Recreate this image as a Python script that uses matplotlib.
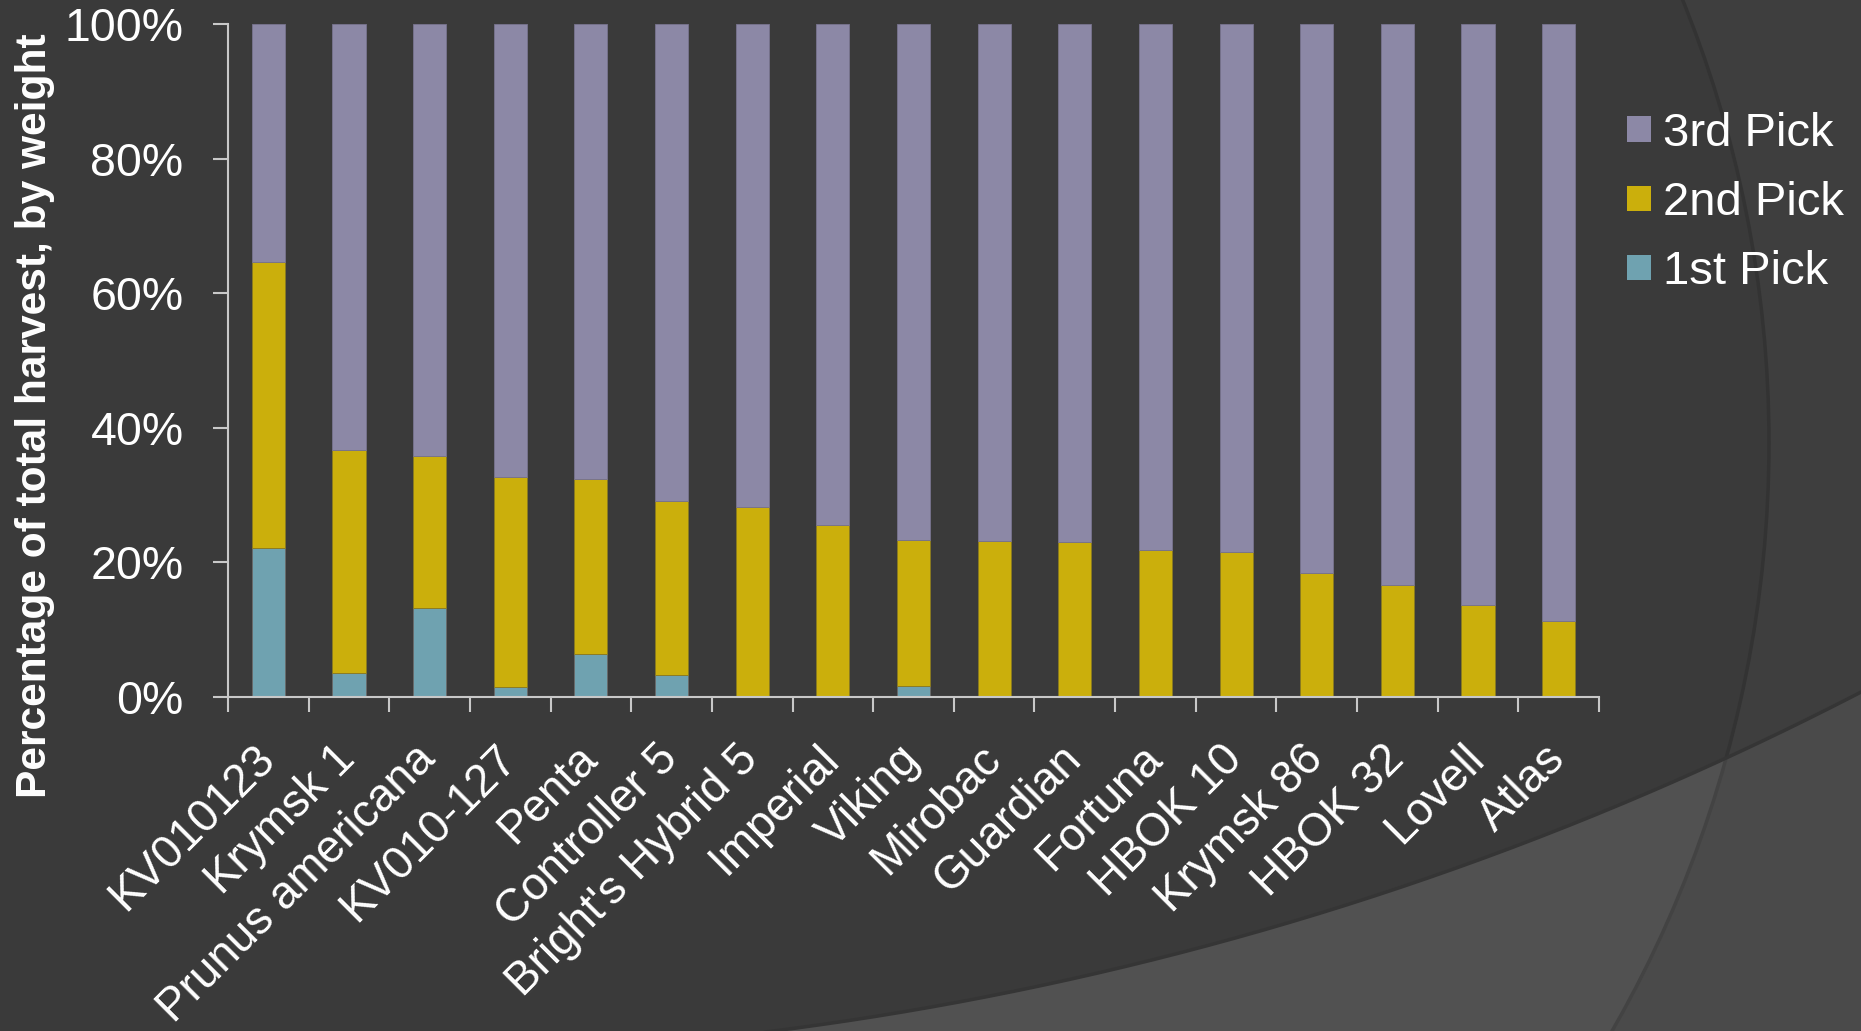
import numpy as np
import matplotlib
matplotlib.use("Agg")
import matplotlib.pyplot as plt
from matplotlib.patches import Circle, Polygon
from matplotlib.transforms import ScaledTranslation

plt.rcParams['font.family'] = ['Liberation Sans', 'DejaVu Sans']

# data (share of total harvest, %)
rootstocks = ['KV010123', 'Krymsk 1', 'Prunus americana', 'KV010-127', 'Penta',
              'Controller 5', "Bright's Hybrid 5", 'Imperial', 'Viking', 'Mirobac',
              'Guardian', 'Fortuna', 'HBOK 10', 'Krymsk 86', 'HBOK 32', 'Lovell', 'Atlas']
pick1 = [22.2, 3.6, 13.2, 1.5, 6.4, 3.2, 0, 0, 1.6, 0, 0, 0, 0, 0, 0, 0, 0]
pick2 = [42.4, 33.1, 22.6, 31.2, 26.0, 25.9, 28.3, 25.6, 21.8, 23.2, 23.1, 21.9, 21.5,
         18.4, 16.6, 13.65, 11.3]
pick3 = [100 - a - b for a, b in zip(pick1, pick2)]

c1 = '#6fa2b0'
c2 = '#cbaf0c'
c3 = '#8c88a6'

W, H = 1861, 1031
fig = plt.figure(figsize=(W / 100, H / 100), dpi=100)
fig.patch.set_facecolor('#3e3e3e')

# slide background decoration
bg = fig.add_axes([0, 0, 1, 1], zorder=-5)
bg.set_xlim(0, W)
bg.set_ylim(H, 0)
bg.axis('off')
big = Circle((589, 443), 1180, facecolor='#3a3a3a', edgecolor='#333333', lw=2.5)
bg.add_patch(big)
cx, cy, r = 363, -2200, 3257
xs = np.linspace(760, W, 200)
ys = cy + np.sqrt(r ** 2 - (xs - cx) ** 2)
band_pts = np.column_stack([np.r_[xs, W, 760], np.r_[ys, H + 5, H + 5]])
bg.add_patch(Polygon(band_pts, closed=True, facecolor='#4a4a4a', edgecolor='none'))
inner = Polygon(band_pts, closed=True, facecolor='#515151', edgecolor='none')
bg.add_patch(inner)
inner.set_clip_path(Circle((589, 443), 1180, transform=bg.transData))
bg.plot(xs, ys, color='#353535', lw=2.5)
arc_clip = Polygon(band_pts, closed=True, transform=bg.transData)
edge = Circle((589, 443), 1180, facecolor='none', edgecolor='#434343', lw=2.5)
bg.add_patch(edge)
edge.set_clip_path(arc_clip)

# chart
ax = fig.add_axes([228 / W, 1 - 697 / H, (1599 - 228) / W, (697 - 24) / H])
ax.set_facecolor('none')
x = np.arange(len(rootstocks))
bw = 0.41
b1 = ax.bar(x, pick1, bw, color=c1, edgecolor='#6a6a6a', lw=0.6, label='1st Pick')
b2 = ax.bar(x, pick2, bw, bottom=pick1, color=c2, edgecolor='#8a7a20', lw=0.6, label='2nd Pick')
b3 = ax.bar(x, pick3, bw, bottom=np.add(pick1, pick2), color=c3, edgecolor='#78748f',
            lw=0.6, label='3rd Pick')

ax.set_xlim(-0.5, len(rootstocks) - 0.5)
ax.set_ylim(0, 100)
for s in ['top', 'right']:
    ax.spines[s].set_visible(False)
for s in ['left', 'bottom']:
    ax.spines[s].set_color('#c8c8c8')
    ax.spines[s].set_linewidth(1.5)

ax.set_yticks([0, 20, 40, 60, 80, 100])
ax.set_yticklabels([f'{v}%' for v in [0, 20, 40, 60, 80, 100]])
ax.tick_params(axis='y', direction='out', length=11, width=1.5, color='#c8c8c8',
               labelsize=33.5, labelcolor='white', pad=21)

ax.set_xticks(np.arange(len(rootstocks) + 1) - 0.5)
ax.set_xticklabels([])
ax.tick_params(axis='x', which='major', direction='out', length=11, width=1.5,
               color='#c8c8c8')
ax.set_xticks(x, minor=True)
ax.set_xticklabels(rootstocks, minor=True, rotation=45, ha='right', va='top',
                   rotation_mode='anchor', fontsize=33, color='white')
ax.tick_params(axis='x', which='minor', length=0, pad=22)
shift = ScaledTranslation(-16 / 100, -9 / 100, fig.dpi_scale_trans)
for lab in ax.get_xticklabels(minor=True):
    lab.set_transform(lab.get_transform() + shift)

fig.text(35 / W, 1 - 416 / H, 'Percentage of total harvest, by weight', rotation=90,
         ha='center', va='center', fontsize=30.6, fontweight='bold', color='white')

leg = ax.legend(handles=[b3, b2, b1], labels=['3rd Pick', '2nd Pick', '1st Pick'],
                loc='upper left', bbox_to_anchor=(1627 / W, 1 - 112 / H),
                bbox_transform=fig.transFigure, frameon=False, fontsize=34,
                handlelength=0.51, handleheight=0.45, handletextpad=0.25,
                labelspacing=0.53, borderpad=0, borderaxespad=0)
for t in leg.get_texts():
    t.set_color('white')
for p in leg.legend_handles:
    p.set_edgecolor('none')

fig.savefig('out.png', dpi=100, facecolor=fig.get_facecolor())
